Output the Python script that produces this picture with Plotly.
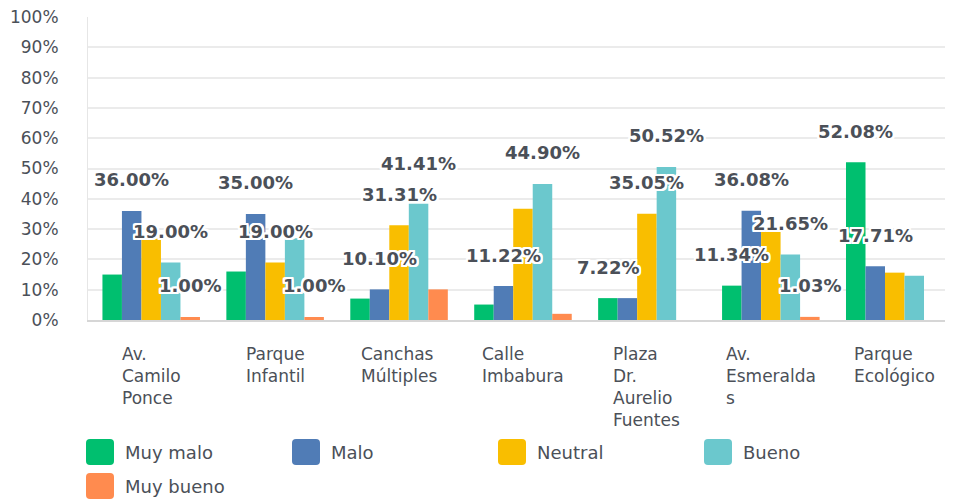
import plotly.graph_objects as go

# ---------------- data ----------------
categories = ["Av. Camilo Ponce", "Parque Infantil", "Canchas Múltiples", "Calle Imbabura",
              "Plaza Dr. Aurelio Fuentes", "Av. Esmeraldas", "Parque Ecológico"]
category_labels = ["Av.<br>Camilo<br>Ponce", "Parque<br>Infantil", "Canchas<br>Múltiples",
                   "Calle<br>Imbabura", "Plaza<br>Dr.<br>Aurelio<br>Fuentes",
                   "Av.<br>Esmeralda<br>s", "Parque<br>Ecológico"]
series_names = ["Muy malo", "Malo", "Neutral", "Bueno", "Muy bueno"]

muy_malo = [15.00, 16.00, 7.07, 5.10, 7.22, 11.34, 52.08]
malo = [36.00, 35.00, 10.10, 11.22, 7.22, 36.08, 17.71]
neutral = [27.00, 19.00, 31.31, 36.73, 35.05, 29.90, 15.63]
bueno = [19.00, 27.00, 38.38, 44.90, 50.52, 21.65, 14.58]
muy_bueno = [1.00, 1.00, 10.10, 2.04, 0.00, 1.03, 0.00]

# data labels visible in the chart (None = hidden)
lbl_muy_malo = [None, None, None, None, 7.22, 11.34, 52.08]
lbl_malo = [36.00, 35.00, 10.10, 11.22, None, 36.08, 17.71]
lbl_neutral = [None, 19.00, 31.31, None, 35.05, None, None]
lbl_bueno = [19.00, None, 41.41, 44.90, 50.52, 21.65, None]
lbl_muy_bueno = [1.00, 1.00, None, None, None, 1.03, None]

y_ticks = [0, 10, 20, 30, 40, 50, 60, 70, 80, 90, 100]

# ---------------- style ----------------
colors = ["#00bf6f", "#507cb6", "#f9be00", "#6bc8cd", "#ff8b4f"]
FONT = "DejaVu Sans"
TXT = "#4b5058"
OFF = 8  # page body margin
W, H = 953 - OFF, 500 - OFF
ML, MR, MT, MB = 80, 0, 9, 180
PW, PH = W - ML - MR, H - MT - MB
XR = [-0.51, 6.47]
BARGAP = 0.213

values = [muy_malo, malo, neutral, bueno, muy_bueno]
labels = [lbl_muy_malo, lbl_malo, lbl_neutral, lbl_bueno, lbl_muy_bueno]

fig = go.Figure()
for name, vals, col in zip(series_names, values, colors):
    fig.add_trace(go.Bar(name=name, x=categories, y=vals, marker_color=col,
                         marker_line_width=0, showlegend=False))

px_per_unit = PW / (XR[1] - XR[0])
bar_px = px_per_unit * (1 - BARGAP) / len(series_names)

shadow = ", ".join(f"{dx}px {dy}px 0 #fff" for dx in (-2, -1, 0, 1, 2) for dy in (-2, -1, 0, 1, 2))
annotations = []
for si, lbls in enumerate(labels):
    for ci, v in enumerate(lbls):
        if v is None:
            continue
        annotations.append(dict(
            x=categories[ci], y=v, xref="x", yref="y", text=f"{v:.2f}%",
            showarrow=False, xanchor="center", yanchor="middle",
            xshift=(si - (len(series_names) - 1) / 2) * bar_px, yshift=31,
            font=dict(family=FONT, size=18, color=TXT, weight=600, shadow=shadow)))

def px2x(px):  # screen px -> paper
    return (px - OFF - ML) / PW

def px2y(py):
    return (MT + PH - (py - OFF)) / PH

# category labels
for cat, lab in zip(categories, category_labels):
    annotations.append(dict(x=cat, xref="x", y=px2y(342), yref="paper", text=lab,
                            showarrow=False, xanchor="center", yanchor="top", align="left",
                            font=dict(family=FONT, size=17, color=TXT)))

# legend (custom)
shapes = []
for i, (name, col) in enumerate(zip(series_names, colors)):
    row, c = divmod(i, 4)
    x0 = 86 + c * 206
    y0 = 439 + row * 34
    w, h, r = 28, 26, 4
    X0, X1 = px2x(x0), px2x(x0 + w)
    Y0, Y1 = px2y(y0), px2y(y0 + h)
    rx, ry = r / PW, r / PH
    path = (f"M{X0+rx},{Y0} L{X1-rx},{Y0} Q{X1},{Y0} {X1},{Y0-ry} "
            f"L{X1},{Y1+ry} Q{X1},{Y1} {X1-rx},{Y1} L{X0+rx},{Y1} "
            f"Q{X0},{Y1} {X0},{Y1+ry} L{X0},{Y0-ry} Q{X0},{Y0} {X0+rx},{Y0} Z")
    shapes.append(dict(type="path", xref="paper", yref="paper", path=path,
                       fillcolor=col, line=dict(width=0)))
    annotations.append(dict(x=px2x(x0 + 37), y=px2y(y0 + h / 2), xref="paper", yref="paper",
                            text=name, showarrow=False, xanchor="left", yanchor="middle",
                            font=dict(family=FONT, size=18, color=TXT)))

fig.update_layout(
    width=W, height=H,
    margin=dict(l=ML, r=MR, t=MT, b=MB),
    paper_bgcolor="white", plot_bgcolor="white",
    barmode="group", bargap=BARGAP, bargroupgap=0,
    showlegend=False,
    annotations=annotations, shapes=shapes,
    xaxis=dict(range=XR, showticklabels=False, showgrid=False, zeroline=False,
               showline=True, linecolor="#d6d6d6", linewidth=2, ticks=""),
    yaxis=dict(range=[0, 100], tickvals=y_ticks, ticktext=[f"{t}%" for t in y_ticks],
               showgrid=True, gridcolor="#ebebeb", gridwidth=2, zeroline=False,
               showline=True, linecolor="#e6e6e6", linewidth=1, ticks="",
               ticklabelstandoff=25, ticklabeloverflow="allow",
               tickfont=dict(family=FONT, size=17, color=TXT)),
)

fig.write_html("out.html")
